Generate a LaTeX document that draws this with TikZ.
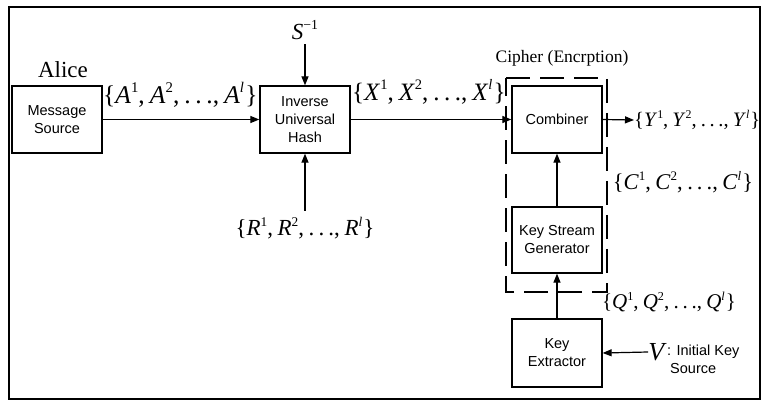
\documentclass[tikz,border=0pt]{standalone}
\usepackage{fontspec}
\usepackage{graphicx}
\setmainfont{Liberation Serif}
\setsansfont{Liberation Sans}
\usetikzlibrary{arrows.meta}
% italic symbol with a small raised index
\newcommand\iv[2]{\textit{#1}\raisebox{.42em}{\scalebox{.58}{#2}}}
\newcommand\sdots{.\kern.18em.\kern.18em.}
\newcommand\seqset[1]{\{\iv{#1}{1},\kern.2em\iv{#1}{2},\kern.2em\sdots,\kern.2em\iv{#1}{\textit{l}}\kern.05em\}}
\begin{document}
\begin{tikzpicture}[x=1pt,y=-1pt,
  blk/.style={draw,line width=1.3pt,minimum width=90pt,inner sep=0pt,align=center,
    font=\sffamily\fontsize{14.5}{18}\selectfont},
  lbl/.style={inner sep=0pt,font=\fontsize{22}{26}\selectfont},
  flow/.style={line width=1.2pt,-{Triangle[length=9pt,width=7pt]}}]
\useasboundingbox (0,0) rectangle (764,401);
\draw[line width=2.6pt] (9,7) rectangle (760,399);

% processing blocks
\node[blk,minimum height=67pt] (msg) at (57,119.5) {Message\\Source};
\node[blk,minimum height=67pt] (hash) at (305,119.5) {Inverse\\Universal\\Hash};
\node[blk,minimum height=67pt] (comb) at (557,119.5) {Combiner};
\node[blk,minimum height=66pt] (ksg) at (557,240) {Key Stream\\Generator};
\node[blk,minimum height=68pt] (kext) at (557,353) {Key\\Extractor};

% cipher boundary
\draw[line width=1.3pt,dash pattern=on 24pt off 10pt] (506,78) -- (607,78) -- (607,292) -- (506,292) -- cycle;
\node[inner sep=0pt,font=\fontsize{17.5}{20}\selectfont] (ciph) at (562,58) {Cipher (Encrption)};

% labels
\node[inner sep=0pt,font=\fontsize{23}{26}\selectfont] (alice) at (63,70) {Alice};
\node[lbl,anchor=west,font=\fontsize{25.5}{28}\selectfont] (aset) at (103,95) {\seqset{A}};
\node[lbl,font=\fontsize{23}{26}\selectfont] (sinv) at (305,30) {\textit{S}\raisebox{.45em}{\scalebox{.6}{−1}}};
\node[lbl,font=\fontsize{23}{26}\selectfont] (rset) at (305,228) {\seqset{R}};
\node[lbl,anchor=west,font=\fontsize{25}{28}\selectfont] (xset) at (352,92) {\seqset{X}};
\node[lbl,anchor=west,font=\fontsize{20.5}{24}\selectfont] (yset) at (634,120) {\seqset{Y}};
\node[lbl,font=\fontsize{22.5}{26}\selectfont] (cset) at (683,182) {\seqset{C}};
\node[lbl,font=\fontsize{21}{24}\selectfont] (qset) at (669,302) {\seqset{Q}};
\node[lbl,anchor=east,font=\fontsize{26}{28}\selectfont] (v) at (667,352) {\textit{V}};
\node[inner sep=0pt,anchor=west,font=\sffamily\fontsize{14.5}{18}\selectfont] (vdesc) at (v.east) {: Initial Key};
\node[inner sep=0pt,anchor=west,font=\sffamily\fontsize{14.5}{18}\selectfont] (vsrc) at (670,369) {Source};

% connectors
\draw[flow] (msg.east) -- (hash.west);
\draw[flow] (sinv.south) ++(0,4) -- (hash.north);
\draw[flow] (rset.north) ++(0,-6) -- (hash.south);
\draw[flow] (hash.east) -- (comb.west);
\draw[flow] (comb.east) -- (yset.west);
\draw[flow] (ksg.north) -- (comb.south);
\draw[flow] (kext.north) -- (ksg.south);
\draw[flow] (v.west) -- (kext.east);
\end{tikzpicture}
\end{document}
